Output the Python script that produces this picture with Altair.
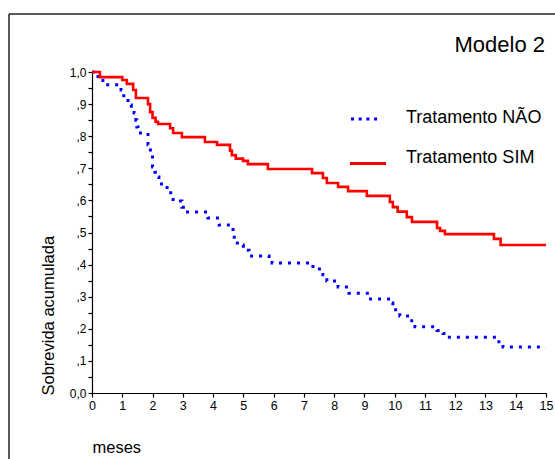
import altair as alt
import pandas as pd

# Kaplan-Meier style step data
sim_t = [0, 0.26, 1.0, 1.15, 1.36, 1.45, 1.85, 1.92, 2.0, 2.1, 2.18, 2.58, 2.68, 2.97,
         3.73, 4.13, 4.56, 4.62, 4.75, 4.99, 5.15, 5.81, 7.27, 7.63, 7.76, 8.13, 8.46,
         9.08, 9.84, 9.94, 10.1, 10.4, 10.57, 11.4, 11.5, 11.66, 13.28, 13.5, 15]
sim_s = [1.0, 0.984, 0.975, 0.963, 0.944, 0.919, 0.9, 0.875, 0.857, 0.845, 0.838, 0.825,
         0.81, 0.797, 0.782, 0.773, 0.755, 0.741, 0.73, 0.723, 0.713, 0.698, 0.685, 0.67,
         0.654, 0.642, 0.629, 0.614, 0.595, 0.579, 0.565, 0.548, 0.533, 0.514, 0.505,
         0.495, 0.48, 0.461, 0.461]

nao_t = [0, 0.2, 0.36, 0.96, 1.05, 1.19, 1.3, 1.39, 1.45, 1.48, 1.52, 1.85, 1.93, 2.0,
         2.08, 2.15, 2.21, 2.48, 2.6, 2.68, 2.97, 3.07, 3.75, 3.83, 4.2, 4.66, 4.7, 4.8,
         4.9, 5.0, 5.19, 5.85, 5.95, 7.3, 7.63, 7.76, 8.13, 8.49, 9.15, 9.85, 9.94, 10.17,
         10.5, 10.67, 11.4, 11.6, 11.7, 13.35, 13.58, 15]
nao_s = [1.0, 0.978, 0.96, 0.944, 0.919, 0.897, 0.888, 0.872, 0.85, 0.829, 0.81, 0.773,
         0.741, 0.704, 0.688, 0.673, 0.651, 0.632, 0.617, 0.598, 0.579, 0.564, 0.558,
         0.545, 0.523, 0.5, 0.48, 0.467, 0.461, 0.445, 0.427, 0.42, 0.405, 0.386, 0.368,
         0.349, 0.33, 0.311, 0.293, 0.28, 0.259, 0.24, 0.225, 0.206, 0.195, 0.185, 0.174,
         0.16, 0.143, 0.143]

groups = ["Tratamento NÃO", "Tratamento SIM"]
colors = ["#0000FF", "#FF0000"]
x_ticks = list(range(0, 16))
y_ticks = [round(i * 0.05, 2) for i in range(21)]
chart_title = "Modelo 2"
x_title = "meses"
y_title = "Sobrevida acumulada"

FONT = "Liberation Sans"

nao_df = pd.DataFrame({"t": nao_t, "s": nao_s, "g": groups[0]})
sim_df = pd.DataFrame({"t": sim_t, "s": sim_s, "g": groups[1]})

x_axis = alt.Axis(values=x_ticks, grid=False, domainColor="black", domainWidth=1.2,
                  tickColor="black", tickSize=4, tickWidth=1.2, labelFont=FONT,
                  labelFontSize=12.5, labelColor="black", labelFlush=False,
                  labelPadding=2, title=x_title, titleFont=FONT, titleFontSize=16.5,
                  titleFontWeight="normal", titleColor="black", titleAlign="left",
                  titleAnchor="start", titleX=0, titleY=59, titleBaseline="alphabetic")
y_axis = alt.Axis(values=y_ticks, grid=False, domainColor="black", domainWidth=1.2,
                  tickColor="black", tickSize=4, tickWidth=1.2, labelFont=FONT,
                  labelFontSize=12, labelColor="black", labelOverlap=False,
                  labelPadding=2,
                  labelExpr="abs(datum.value*10 - round(datum.value*10)) > 0.01 ? '' : "
                            "(datum.value > 0.99 ? '1,0' : (datum.value < 0.01 ? '0,0' : "
                            "',' + round(datum.value*10)))",
                  title=y_title, titleFont=FONT, titleFontSize=16.5,
                  titleFontWeight="normal", titleColor="black", titleAngle=270,
                  titleAlign="left", titleBaseline="alphabetic", titleX=-39, titleY=323)

xs = alt.Scale(domain=[0, 15], nice=False, zero=False)
ys = alt.Scale(domain=[0, 1], nice=False)

nao_line = alt.Chart(nao_df).mark_line(
    interpolate="step-after", strokeDash=[3, 6], strokeWidth=3, strokeCap="butt",
    color=colors[0]
).encode(x=alt.X("t:Q", scale=xs, axis=x_axis), y=alt.Y("s:Q", scale=ys, axis=y_axis))

sim_line = alt.Chart(sim_df).mark_line(
    interpolate="step-after", strokeWidth=2.6, color=colors[1]
).encode(x=alt.X("t:Q", scale=xs, axis=x_axis), y=alt.Y("s:Q", scale=ys, axis=y_axis))

one = pd.DataFrame({"k": [0]})

title_txt = alt.Chart(one).mark_text(
    align="right", baseline="alphabetic", font=FONT, fontSize=22, color="black"
).encode(x=alt.value(453), y=alt.value(-20), text=alt.value(chart_title))

leg_nao_sym = alt.Chart(one).mark_rule(
    color=colors[0], strokeWidth=3, strokeDash=[3, 4.7], strokeCap="butt"
).encode(x=alt.value(259), x2=alt.value(288), y=alt.value(47))
leg_sim_sym = alt.Chart(one).mark_rule(
    color=colors[1], strokeWidth=3
).encode(x=alt.value(258), x2=alt.value(294), y=alt.value(91.5))
leg_nao_txt = alt.Chart(one).mark_text(
    align="left", baseline="alphabetic", font=FONT, fontSize=18, color="black"
).encode(x=alt.value(314), y=alt.value(51), text=alt.value(groups[0]))
leg_sim_txt = alt.Chart(one).mark_text(
    align="left", baseline="alphabetic", font=FONT, fontSize=18, color="black"
).encode(x=alt.value(314), y=alt.value(91), text=alt.value(groups[1]))

frame_left = alt.Chart(one).mark_rule(color="#222222", strokeWidth=1.5).encode(
    x=alt.value(-83), y=alt.value(-58), y2=alt.value(390))
frame_top = alt.Chart(one).mark_rule(color="#222222", strokeWidth=1.5).encode(
    x=alt.value(-83), x2=alt.value(470), y=alt.value(-58))

chart = alt.layer(
    nao_line, sim_line, title_txt, leg_nao_sym, leg_sim_sym, leg_nao_txt, leg_sim_txt,
    frame_left, frame_top
).properties(
    width=454, height=321,
    autosize=alt.AutoSizeParams(type="none"),
    padding={"left": 92, "top": 72, "right": 9, "bottom": 66},
    background="white"
).configure_view(stroke=None)

chart.save("out.html", embed_options={"renderer": "svg", "actions": False})
